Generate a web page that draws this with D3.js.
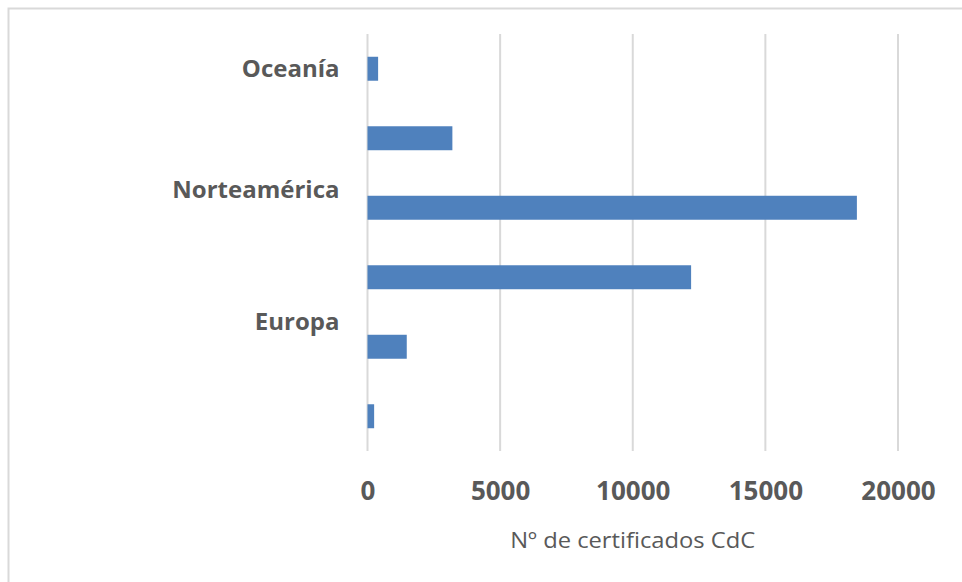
<!DOCTYPE html>
<html>
<head>
<meta charset="utf-8">
<script src="https://cdn.jsdelivr.net/npm/d3@7"></script>
<style>
  body { margin: 0; background: #fff; }
  svg { display: block; }
</style>
</head>
<body>
<div id="chart"></div>
<script>
const width = 962;
const height = 582;

// categories top to bottom (only every other label is shown in the original)
const categories = ["Oceanía", "Latinoamérica", "Norteamérica", "Asia", "Europa", "África"];
const values = [400, 3200, 18450, 12200, 1480, 250];
const shownLabels = ["Oceanía", "Norteamérica", "Europa"];
const labelShift = [0, -0.27, -0.37]; // in band steps, as in the picture
const xTicks = [0, 5000, 10000, 15000, 20000];
const xTitle = "Nº de certificados CdC";

const margin = { top: 34, right: 64, bottom: 131, left: 367.5 };

const svg = d3.select("#chart")
  .append("svg")
  .attr("width", width)
  .attr("height", height);

// chart area border
svg.append("rect")
  .attr("x", 8.5)
  .attr("y", 8.5)
  .attr("width", 1000)
  .attr("height", 1000)
  .attr("fill", "none")
  .attr("stroke", "#d9d9d9")
  .attr("stroke-width", 2);

const x = d3.scaleLinear()
  .domain([0, 20000])
  .range([margin.left, width - margin.right]);

const y = d3.scaleBand()
  .domain(categories)
  .range([margin.top, height - margin.bottom])
  .paddingInner(0.655)
  .paddingOuter(0.3275);

// gridlines
svg.append("g")
  .selectAll("line")
  .data(xTicks)
  .enter()
  .append("line")
  .attr("x1", d => x(d))
  .attr("x2", d => x(d))
  .attr("y1", margin.top)
  .attr("y2", height - margin.bottom)
  .attr("stroke", "#d9d9d9")
  .attr("stroke-width", 2);

// bars
svg.append("g")
  .selectAll("rect")
  .data(values)
  .enter()
  .append("rect")
  .attr("x", x(0))
  .attr("y", (d, i) => y(categories[i]))
  .attr("width", d => x(d) - x(0))
  .attr("height", y.bandwidth())
  .attr("fill", "#4f81bd");

// category labels
svg.append("g")
  .selectAll("text")
  .data(shownLabels)
  .enter()
  .append("text")
  .attr("x", margin.left - 28)
  .attr("y", (d, i) => y(d) + y.bandwidth() / 2 + labelShift[i] * y.step())
  .attr("dy", "0.36em")
  .attr("text-anchor", "end")
  .attr("font-family", "'Open Sans', sans-serif")
  .attr("font-weight", "bold")
  .attr("font-size", 24)
  .attr("fill", "#595959")
  .text(d => d);

// x axis
const xAxis = svg.append("g")
  .attr("transform", `translate(0,${height - margin.bottom})`)
  .call(d3.axisBottom(x).tickValues(xTicks).tickSize(0).tickPadding(31).tickFormat(d3.format("d")));

xAxis.select(".domain").remove();
xAxis.selectAll("text")
  .attr("font-family", "'Open Sans', sans-serif")
  .attr("font-weight", "bold")
  .attr("font-size", 26)
  .attr("fill", "#595959");

svg.append("text")
  .attr("x", (x.range()[0] + x.range()[1]) / 2)
  .attr("y", 548)
  .attr("text-anchor", "middle")
  .attr("font-family", "'Open Sans', sans-serif")
  .attr("font-size", 22)
  .attr("textLength", 245)
  .attr("lengthAdjust", "spacingAndGlyphs")
  .attr("fill", "#595959")
  .text(xTitle);
</script>
</body>
</html>
